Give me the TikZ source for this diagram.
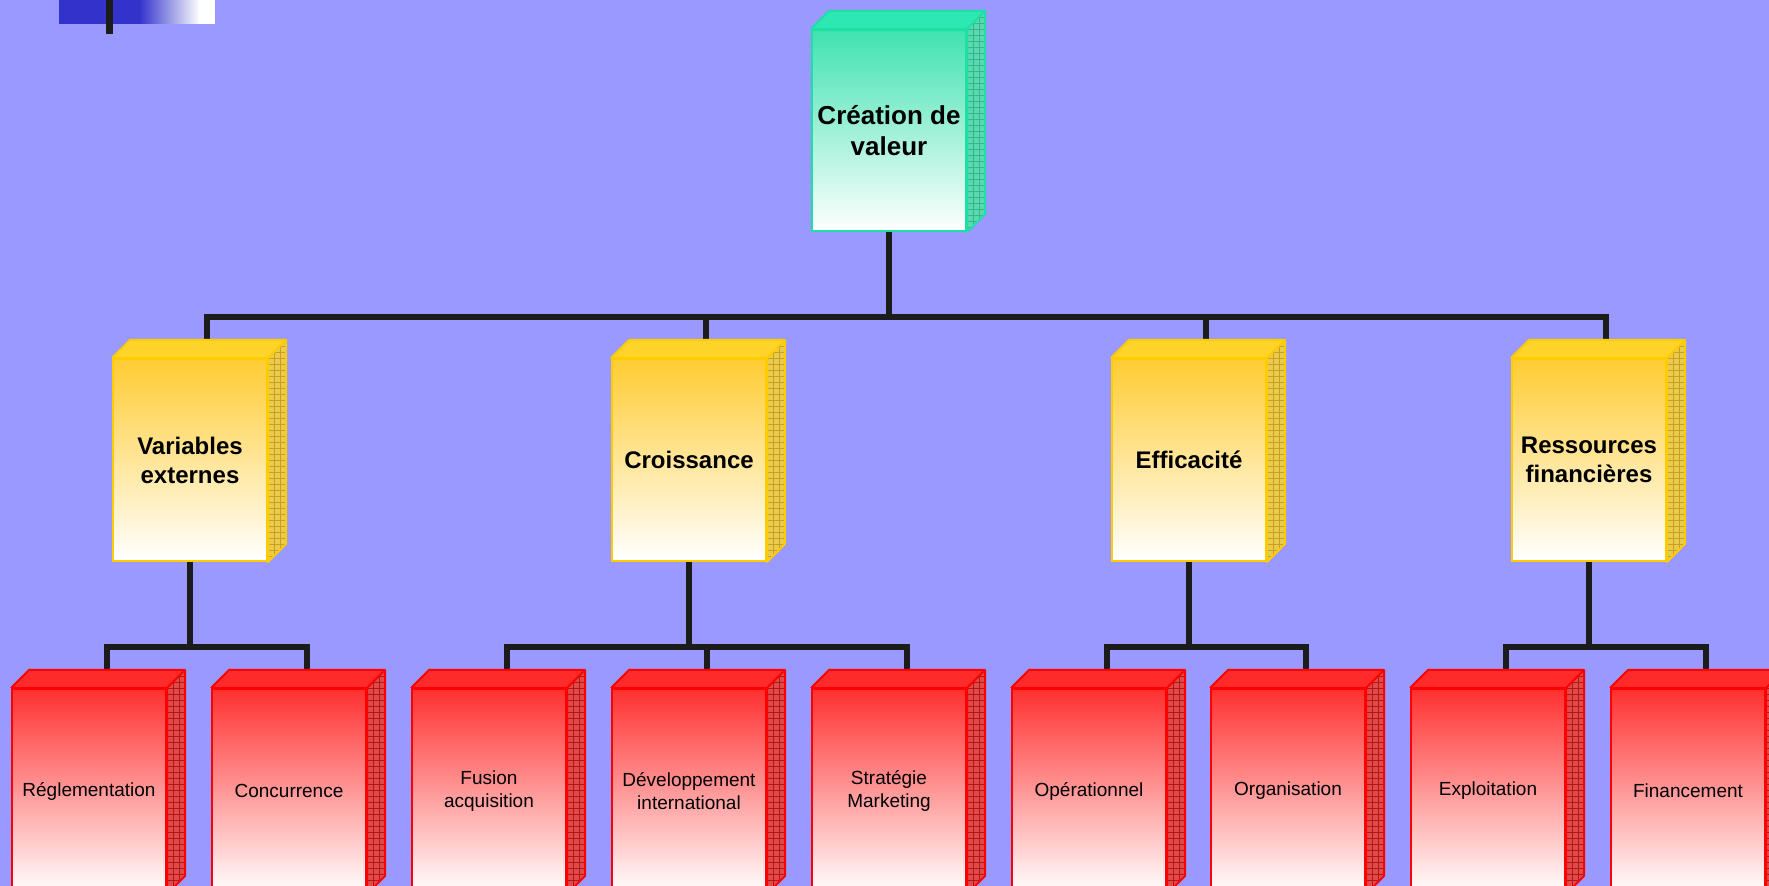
\documentclass[tikz,border=0pt]{standalone}
\usepackage{fontspec}
\setmainfont{Liberation Sans}
\usetikzlibrary{calc}
\definecolor{bg}{HTML}{9999FF}
\definecolor{deco}{HTML}{3333CC}
\definecolor{linec}{HTML}{1C1C1C}
\definecolor{tborder}{HTML}{1DE0A4}
\definecolor{tfront}{HTML}{40E2B0}
\definecolor{ttop}{HTML}{2EE8B4}
\definecolor{tside}{HTML}{5CD8B0}
\definecolor{tgrid}{HTML}{30B888}
\definecolor{yborder}{HTML}{FFCC00}
\definecolor{yfront}{HTML}{FFCC33}
\definecolor{ytop}{HTML}{FFD42A}
\definecolor{yside}{HTML}{EACB4E}
\definecolor{ygrid}{HTML}{C8A020}
\definecolor{rborder}{HTML}{FF0000}
\definecolor{rfront}{HTML}{FF3030}
\definecolor{rtop}{HTML}{FF2A2A}
\definecolor{rside}{HTML}{E24A4A}
\definecolor{rgrid}{HTML}{B01818}
\newcommand\boxfaces[5]{%
  \fill[#2] (#1.north west) -- ++(18,-18) -- ($(#1.north east)+(18,-18)$) -- (#1.north east) -- cycle;
  \begin{scope}
    \clip (#1.north east) -- ++(18,-18) -- ($(#1.south east)+(18,-18)$) -- (#1.south east) -- cycle;
    \fill[#3] ($(#1.north east)+(0,-20)$) rectangle ($(#1.south east)+(20,0)$);
    \foreach \k in {0,...,36} \draw[#4,line width=0.3pt] ($(#1.north east)+(0,-18+\k*6)$) -- ++(20,0);
    \foreach \k in {1,2,3} \draw[#4,line width=0.3pt] ($(#1.north east)+(\k*6,-20)$) -- ($(#1.south east)+(\k*6,0)$);
  \end{scope}
  \draw[#5,line width=1pt,line join=round] (#1.north west) -- ++(18,-18) -- ($(#1.north east)+(18,-18)$) -- ($(#1.south east)+(18,-18)$) -- (#1.south east) -- (#1.north east) -- ++(18,-18);
  \draw[#5,line width=1pt] (#1.north west) -- (#1.north east);
}
\begin{document}
\begin{tikzpicture}[x=0.5pt,y=-0.5pt,
  conn/.style={line width=3pt, draw=linec, line join=miter},
  front/.style={inner sep=0pt, minimum width=77pt, line width=1pt, align=center, text=black},
  topbox/.style={front, minimum height=100.5pt, draw=tborder, top color=tfront, bottom color=white, font=\fontsize{13}{15.5}\selectfont\bfseries},
  ybox/.style={front, minimum height=101pt, draw=yborder, top color=yfront, bottom color=white, font=\fontsize{12}{14.5}\selectfont\bfseries},
  rbox/.style={front, minimum height=102pt, draw=rborder, top color=rfront, bottom color=white, font=\fontsize{9.5}{11.3}\selectfont},
]
\useasboundingbox (0,0) rectangle (1769,886);
\clip (0,0) rectangle (1769,886);
\fill[bg] (0,0) rectangle (1769,886);
% top-left decoration
\fill[deco] (59,0) rectangle (140,24);
\shade[left color=deco, right color=white] (139,0) rectangle (200,24);
\fill[white] (199,0) rectangle (215,24);
\fill[linec] (106,0) rectangle (113,34);
% nodes
\node[topbox] (t) at (889,130.5) {Création de\\valeur};
\node[ybox] (y1) at (190,460) {Variables\\externes};
\node[ybox] (y2) at (689,460) {Croissance};
\node[ybox] (y3) at (1189,460) {Efficacité};
\node[ybox] (y4) at (1589,460) {Ressources\\financières};
\node[rbox] (r1) at (89,791) {Réglementation};
\node[rbox] (r2) at (289,791) {Concurrence};
\node[rbox] (r3) at (489,791) {Fusion\\acquisition};
\node[rbox] (r4) at (689,791) {Développement\\international};
\node[rbox] (r5) at (889,791) {Stratégie\\Marketing};
\node[rbox] (r6) at (1089,791) {Opérationnel};
\node[rbox] (r7) at (1288,791) {Organisation};
\node[rbox] (r8) at (1488,791) {Exploitation};
\node[rbox] (r9) at (1688,791) {Financement};
% connector points
\coordinate (bus) at (889,317);
\coordinate (g1) at (190,647);
\coordinate (g2) at (689,647);
\coordinate (g3) at (1189,647);
\coordinate (g4) at (1589,647);
\foreach \n/\x in {y1/207,y2/706,y3/1206,y4/1606} \coordinate (\n t) at (\x,341);
\foreach \n/\x in {r1/107,r2/307,r3/507,r4/707,r5/907,r6/1107,r7/1306,r8/1506,r9/1706} \coordinate (\n t) at (\x,671);
% connectors
\draw[conn] (t.south) -- (bus);
\draw[conn] (y1t) |- (bus) -| (y4t);
\draw[conn] (y2t) -- (y2t |- bus);
\draw[conn] (y3t) -- (y3t |- bus);
\draw[conn] (y1.south) -- (g1);
\draw[conn] (r1t) |- (g1) -| (r2t);
\draw[conn] (y2.south) -- (g2);
\draw[conn] (r3t) |- (g2) -| (r5t);
\draw[conn] (r4t) -- (r4t |- g2);
\draw[conn] (y3.south) -- (g3);
\draw[conn] (r6t) |- (g3) -| (r7t);
\draw[conn] (y4.south) -- (g4);
\draw[conn] (r8t) |- (g4) -| (r9t);
% 3D faces
\boxfaces{t}{ttop}{tside}{tgrid}{tborder}
\foreach \n in {y1,y2,y3,y4} {\boxfaces{\n}{ytop}{yside}{ygrid}{yborder}}
\foreach \n in {r1,r2,r3,r4,r5,r6,r7,r8,r9} {\boxfaces{\n}{rtop}{rside}{rgrid}{rborder}}
\end{tikzpicture}
\end{document}
